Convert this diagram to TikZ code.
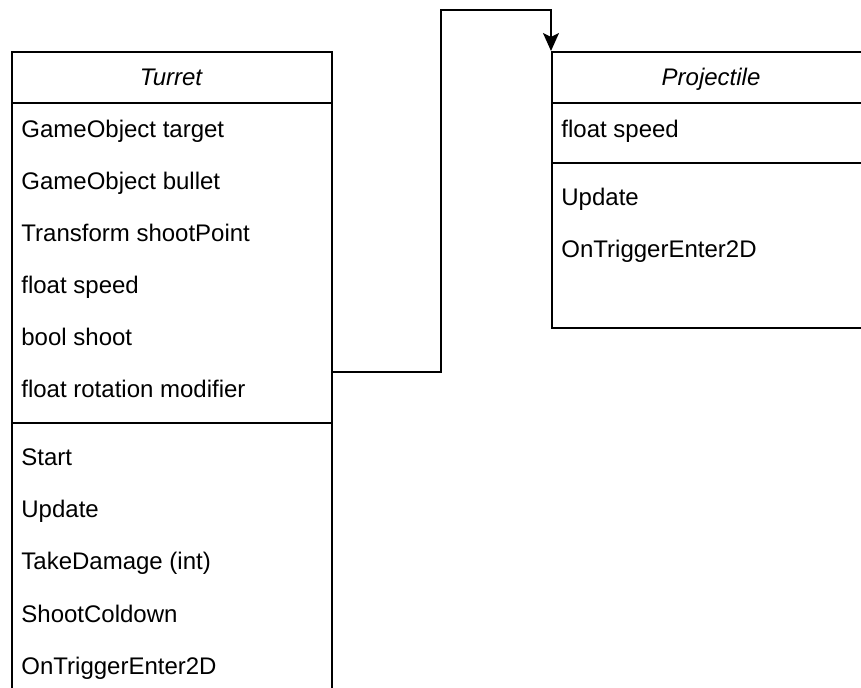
\documentclass[tikz,border=0pt]{standalone}
\usepackage{fontspec}
\setmainfont{Liberation Sans}
\usetikzlibrary{arrows.meta}
\begin{document}
\begin{tikzpicture}[x=0.5pt,y=-0.5pt,
  classbox/.style={draw=black,line width=1pt,rectangle,inner sep=0pt,minimum width=160pt,anchor=north west},
  rowtext/.style={anchor=base west,inner sep=0pt,font=\fontsize{12}{14}\selectfont,text=black},
  headtext/.style={anchor=base,inner sep=0pt,font=\fontsize{12}{14}\selectfont\itshape,text=black},
  sepline/.style={draw=black,line width=1pt},
  conn/.style={draw=black,line width=1pt,-{Stealth[length=9pt,width=8pt,inset=2pt]}}]
\clip (0,0) rectangle (861,688);
% Turret
\node[classbox,minimum height=320pt] (turret) at (11,51) {};
\node[headtext] (tname) at (171,86) {Turret};
\draw[sepline] (11,103) -- (331,103);
\node[rowtext] (t1) at (21,138) {GameObject target};
\node[rowtext] (t2) at (21,190) {GameObject bullet};
\node[rowtext] (t3) at (21,242) {Transform shootPoint};
\node[rowtext] (t4) at (21,294) {float speed};
\node[rowtext] (t5) at (21,346) {bool shoot};
\node[rowtext] (t6) at (21,398) {float rotation modifier};
\draw[sepline] (11,423) -- (331,423);
\node[rowtext] (m1) at (21,466) {Start};
\node[rowtext] (m2) at (21,518) {Update};
\node[rowtext] (m3) at (21,570) {TakeDamage (int)};
\node[rowtext] (m4) at (21,622) {ShootColdown};
\node[rowtext] (m5) at (21,674) {OnTriggerEnter2D};
% Projectile
\node[classbox,minimum height=138pt] (proj) at (551,51) {};
\node[headtext] (pname) at (711,86) {Projectile};
\draw[sepline] (551,103) -- (871,103);
\node[rowtext] (p1) at (561,138) {float speed};
\draw[sepline] (551,163) -- (871,163);
\node[rowtext] (pm1) at (561,206) {Update};
\node[rowtext] (pm2) at (561,258) {OnTriggerEnter2D};
% connector
\coordinate (bend) at (441,10);
\draw[conn] (turret.east) -| (bend) -| (proj.north west);
\end{tikzpicture}
\end{document}
